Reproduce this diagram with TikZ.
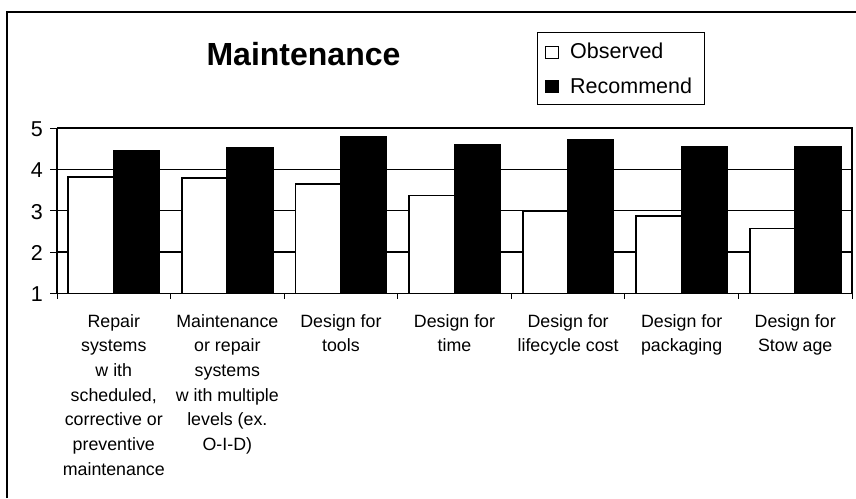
\documentclass[tikz,border=0pt]{standalone}
\usepackage{fontspec}
\setmainfont{Liberation Sans}
\begin{document}
\begin{tikzpicture}[x=1pt,y=-1pt,
  gridline/.style={line width=1.3pt},
  obsbar/.style={draw=black,fill=white,line width=1.8pt},
  recbar/.style={draw=black,fill=black,line width=1.8pt},
  catlab/.style={font=\fontsize{17.8}{24.7}\selectfont,align=center,anchor=north,inner sep=0pt},
  ylab/.style={font=\fontsize{21.5}{22}\selectfont,anchor=east,inner sep=0pt},
  legtext/.style={font=\fontsize{21.5}{22}\selectfont,anchor=base west,inner sep=0pt},
]
\useasboundingbox (0,0) rectangle (856,498);
\fill[white] (0,0) rectangle (856,498);
% outer frame (cut)
\draw[line width=1.2pt] (7,498) -- (7,12) -- (856,12);
% title
\node[font=\fontsize{32}{34}\selectfont\bfseries,anchor=base,inner sep=0pt] (title) at (303.5,65) {Maintenance};
% legend
\draw[line width=1pt] (537,32) rectangle (704,104);
\draw[line width=1.2pt,fill=white] (545.5,46.5) rectangle (558.5,58.5);
\fill[black] (545,79.5) rectangle (559,93);
\node[legtext] (lobs) at (570,58) {Observed};
\node[legtext] (lrec) at (570,93) {Recommend};
% grid lines
\foreach \v in {2,3,4}{
  \draw[gridline] (57,{293.5-(\v-1)*41.375}) -- (852,{293.5-(\v-1)*41.375});
}
% bars
\foreach \i/\o/\r in {0/3.82/4.45,1/3.79/4.53,2/3.64/4.79,3/3.37/4.60,4/3.00/4.72,5/2.87/4.54,6/2.57/4.54}{
  \pgfmathsetmacro\xs{57+\i*113.571}
  \draw[obsbar] ({\xs+11.36},293.5) rectangle ({\xs+56.79},{293.5-(\o-1)*41.375});
  \draw[recbar] ({\xs+56.79},293.5) rectangle ({\xs+102.2},{293.5-(\r-1)*41.375});
}
% plot border and axes
\draw[line width=1.8pt] (57,128) -- (852,128) -- (852,293.5);
\draw[line width=1.5pt] (57,128) -- (57,293.5) -- (852,293.5);
\foreach \v in {1,...,5}{
  \draw[line width=1pt] (50,{293.5-(\v-1)*41.375}) -- (57,{293.5-(\v-1)*41.375});
  \node[ylab] (y\v) at (43,{294.5-(\v-1)*41.375}) {\v};
}
\foreach \i in {0,...,7}{
  \draw[line width=1pt] ({57+\i*113.571},293.5) -- ({57+\i*113.571},298.5);
}
% category labels
\node[catlab] (c1) at ({57+0.5*113.571},314) {Repair\\systems\\w ith\\scheduled,\\corrective or\\preventive\\maintenance};
\node[catlab] (c2) at ({57+1.5*113.571},314) {Maintenance\\or repair\\systems\\w ith multiple\\levels (ex.\\O-I-D)};
\node[catlab] (c3) at ({57+2.5*113.571},314) {Design for\\tools};
\node[catlab] (c4) at ({57+3.5*113.571},314) {Design for\\time};
\node[catlab] (c5) at ({57+4.5*113.571},314) {Design for\\lifecycle cost};
\node[catlab] (c6) at ({57+5.5*113.571},314) {Design for\\packaging};
\node[catlab] (c7) at ({57+6.5*113.571},314) {Design for\\Stow age};
\end{tikzpicture}
\end{document}
